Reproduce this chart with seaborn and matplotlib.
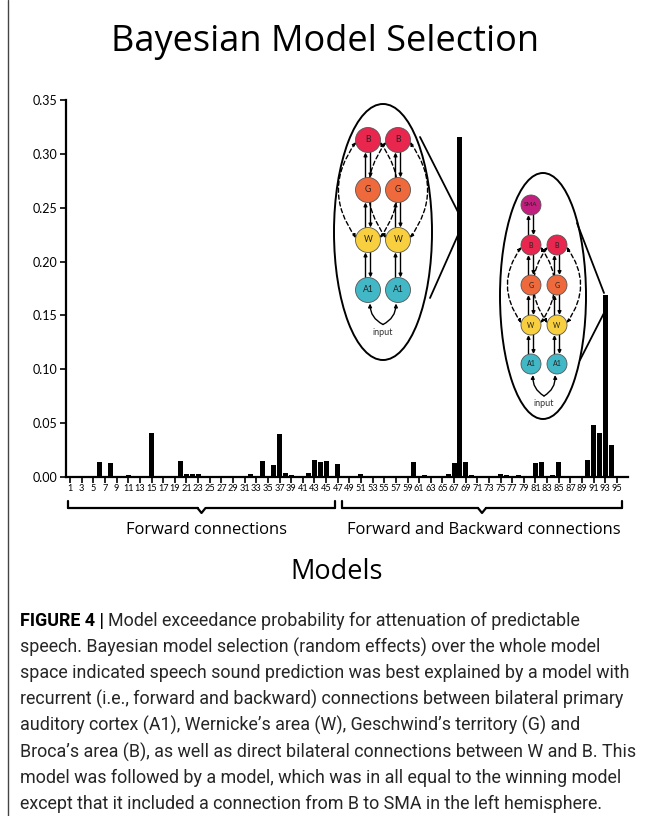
import numpy as np
import pandas as pd
import seaborn as sns
import matplotlib.pyplot as plt
from matplotlib.patches import Ellipse, Circle, FancyArrowPatch
from matplotlib.lines import Line2D

# exceedance probability per model
models = list(range(1, 96))
probs = [0.0] * 95
nonzero = {6: 0.014, 8: 0.013, 11: 0.002, 15: 0.041, 20: 0.015, 21: 0.003, 22: 0.003, 23: 0.003,
           32: 0.003, 34: 0.015, 36: 0.011, 37: 0.040, 38: 0.004, 39: 0.002, 42: 0.004,
           43: 0.016, 44: 0.014, 45: 0.015, 47: 0.012, 48: 0.001, 51: 0.003, 60: 0.014,
           62: 0.002, 66: 0.003, 67: 0.013, 68: 0.316, 69: 0.014, 70: 0.002, 75: 0.003,
           76: 0.002, 78: 0.002, 81: 0.013, 82: 0.014, 84: 0.002, 85: 0.014, 90: 0.016,
           91: 0.048, 92: 0.041, 93: 0.169, 94: 0.030}
for m, v in nonzero.items():
    probs[m - 1] = v

y_ticks = [0.0, 0.05, 0.10, 0.15, 0.20, 0.25, 0.30, 0.35]
x_ticks = list(range(1, 96, 2))

df = pd.DataFrame({'Model': models, 'Prob': probs})

sns.set_style('ticks')
plt.rcParams['font.family'] = ['Lato', 'DejaVu Sans']
plt.rcParams['text.color'] = 'black'
plt.rcParams['xtick.color'] = 'black'
plt.rcParams['ytick.color'] = 'black'

W, H = 659, 816
fig = plt.figure(figsize=(W / 100, H / 100), dpi=100)
ax = fig.add_axes([66 / W, 1 - 477 / H, (628 - 66) / W, (477 - 100) / H])

sns.barplot(data=df, x='Model', y='Prob', native_scale=True, color='black',
            width=0.85, saturation=1, edgecolor='black', linewidth=0, ax=ax)
ax.set_xlim(0.3, 96.9)
ax.set_ylim(0, 0.35)
ax.set_yticks(y_ticks)
ax.set_yticklabels(['%.2f' % t for t in y_ticks], fontsize=9)
ax.set_xticks(x_ticks)
ax.set_xticklabels([str(t) for t in x_ticks], fontsize=6.6,
                   family=['Liberation Sans Narrow', 'Lato', 'DejaVu Sans'])
ax.tick_params(axis='x', length=4, width=1.2, pad=1)
ax.tick_params(axis='y', length=4, width=1.2, pad=2)
ax.set_xlabel('')
ax.set_ylabel('')
sns.despine(ax=ax)
for s in ['left', 'bottom']:
    ax.spines[s].set_linewidth(1.6)
    ax.spines[s].set_color('black')

# overlay in pixel coordinates for decorations
ov = fig.add_axes([0, 0, 1, 1], facecolor='none')
ov.set_xlim(0, W)
ov.set_ylim(H, 0)
ov.axis('off')

ov.add_line(Line2D([8, 8], [0, H], color='#444444', lw=1))

sans = ['Open Sans', 'DejaVu Sans']
ov.text(325, 42, 'Bayesian Model Selection', fontsize=26, ha='center', va='center',
        family=sans, color='black')

# braces
def brace(x0, x1, y, h=7):
    xm = (x0 + x1) / 2
    ov.plot([x0, x0], [y - h, y], color='black', lw=1.6)
    ov.plot([x1, x1], [y - h, y], color='black', lw=1.6)
    ov.plot([x0, xm - 4], [y, y], color='black', lw=1.6)
    ov.plot([xm + 4, x1], [y, y], color='black', lw=1.6)
    ov.plot([xm - 4, xm, xm + 4], [y, y + 5, y], color='black', lw=1.6)

brace(68, 335, 508)
brace(342, 622, 508)
ov.text(206, 530, 'Forward connections', fontsize=11.9, ha='center', va='center', family=sans)
ov.text(484, 530, 'Forward and Backward connections', fontsize=11.9, ha='center', va='center',
        family=sans)
ov.text(337, 572, 'Models', fontsize=19.5, ha='center', va='center', family=sans)

# model insets
colors = {'SMA': '#c21f7e', 'B': '#e8264e', 'G': '#ee6a3c', 'W': '#f8cf3e', 'A1': '#42b7c6'}

def arrow(p0, p1, style='-|>', **kw):
    ov.add_patch(FancyArrowPatch(p0, p1, arrowstyle=style, mutation_scale=5, lw=1,
                                 color='black', shrinkA=0, shrinkB=0, **kw))

def inset(cx, cy, w, h, cols, rows, r, hook_a, hook_b, sma=None):
    ov.add_patch(Ellipse((cx, cy), w, h, fill=False, ec='black', lw=1.4))
    ov.plot([hook_a[0][0], hook_a[1][0]], [hook_a[0][1], hook_a[1][1]], color='black', lw=1.3)
    ov.plot([hook_b[0][0], hook_b[1][0]], [hook_b[0][1], hook_b[1][1]], color='black', lw=1.3)
    yb, yw = rows[0][1], rows[2][1]
    for x in cols:
        # dashed loops B <-> W on both sides
        for side in (-1, 1):
            arrow((x + side * r * 0.95, yb + 2), (x + side * r * 0.95, yw - 2), style='<|-|>',
                  connectionstyle='arc3,rad=%.2f' % (-0.36 * side), ls=(0, (3, 2)))
        for name, y in rows:
            ov.add_patch(Circle((x, y), r, fc=colors[name], ec='#555555', lw=0.6, zorder=3))
            ov.text(x, y, name, fontsize=r * 0.5, ha='center', va='center', color='#222222',
                    zorder=4)
        for (n0, y0), (n1, y1) in zip(rows[:-1], rows[1:]):
            arrow((x - 2.5, y1 - r), (x - 2.5, y0 + r))
            arrow((x + 2.5, y0 + r), (x + 2.5, y1 - r))
    if sma is not None:
        ov.add_patch(Circle((cols[0], sma), r, fc=colors['SMA'], ec='#555555', lw=0.6, zorder=3))
        ov.text(cols[0], sma, 'SMA', fontsize=r * 0.45, ha='center', va='center',
                color='#222222', zorder=4)
        arrow((cols[0] - 2.5, rows[0][1] - r), (cols[0] - 2.5, sma + r))
        arrow((cols[0] + 2.5, sma + r), (cols[0] + 2.5, rows[0][1] - r))
    # input fork
    ya = rows[-1][1] + r
    xm = (cols[0] + cols[1]) / 2
    arrow((xm, ya + 22), (cols[0] + 2, ya + 1), connectionstyle='arc3,rad=-0.3')
    arrow((xm, ya + 22), (cols[1] - 2, ya + 1), connectionstyle='arc3,rad=0.3')
    ov.text(xm, ya + 30, 'input', fontsize=6.5, ha='center', va='center', color='#333333')

inset(383, 232, 98, 256, [368, 398],
      [('B', 140), ('G', 190), ('W', 240), ('A1', 290)], 12.5,
      ((420, 137), (458, 212)), ((430, 298), (458, 235)))
inset(543, 296, 86, 246, [531, 557],
      [('B', 245), ('G', 285), ('W', 325), ('A1', 364)], 10,
      ((577, 223), (604, 293)), ((580, 360), (604, 313)), sma=205)

# caption
cap_lines = [
    'speech. Bayesian model selection (random effects) over the whole model',
    'space indicated speech sound prediction was best explained by a model with',
    'recurrent (i.e., forward and backward) connections between bilateral primary',
    'auditory cortex (A1), Wernicke\u2019s area (W), Geschwind\u2019s territory (G) and',
    'Broca\u2019s area (B), as well as direct bilateral connections between W and B. This',
    'model was followed by a model, which was in all equal to the winning model',
    'except that it included a connection from B to SMA in the left hemisphere.',
]
cap_font = ['Roboto', 'DejaVu Sans']
cap_size = 12.85
bold = ov.text(20, 621, 'FIGURE 4 |', fontsize=cap_size, fontweight='bold', ha='left',
               va='center', family=cap_font, color='black')
fig.canvas.draw()
bb = bold.get_window_extent()
ov.text(bb.x1 + 4, 621, 'Model exceedance probability for attenuation of predictable',
        fontsize=cap_size, ha='left', va='center', family=cap_font, color='#262626')
for i, line in enumerate(cap_lines):
    ov.text(20, 621 + 26.2 * (i + 1), line, fontsize=cap_size, ha='left', va='center',
            family=cap_font, color='#262626')

fig.savefig('out.png', dpi=100)
